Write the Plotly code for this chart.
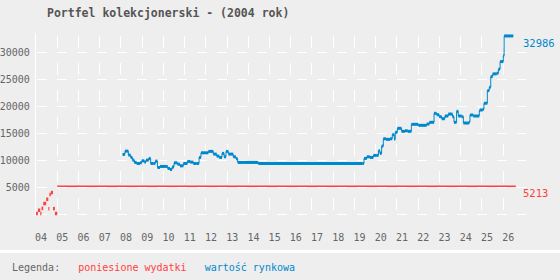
import plotly.graph_objects as go

# ---- data ----
title_text = "Portfel kolekcjonerski - (2004 rok)"
legend_label = "Legenda:"
expense_name = "poniesione wydatki"
market_name = "wartość rynkowa"

year_labels = ["04", "05", "06", "07", "08", "09", "10", "11", "12", "13", "14", "15",
               "16", "17", "18", "19", "20", "21", "22", "23", "24", "25", "26"]
year_starts = list(range(2004, 2027))

expense_x = [2004.00, 2004.09, 2004.20, 2004.26, 2004.34, 2004.48, 2004.58, 2004.63,
             2004.70, 2004.80, 2004.89, 2005.00, 2026.60]
expense_y = [200, 800, 200, 1150, 2040, 2830, 1100, 3700,
             4070, 1100, 200, 5213, 5213]

market_x = [2008.08, 2008.19, 2008.35, 2008.46, 2008.54, 2008.63, 2008.74, 2008.90, 2008.98,
            2009.10, 2009.18, 2009.31, 2009.40, 2009.53, 2009.62, 2009.72, 2009.84, 2010.08,
            2010.20, 2010.31, 2010.41, 2010.50, 2010.66, 2010.78, 2010.94, 2011.13, 2011.26,
            2011.41, 2011.57, 2011.68, 2011.77, 2011.96, 2012.12, 2012.35, 2012.51, 2012.63,
            2012.76, 2012.86, 2012.95, 2013.06, 2013.29, 2013.42, 2013.50, 2014.47, 2019.39,
            2019.45, 2019.58, 2019.73, 2019.89, 2020.05, 2020.13, 2020.20, 2020.28, 2020.36,
            2020.49, 2020.68, 2020.78, 2020.88, 2020.92, 2021.02, 2021.22, 2021.38, 2021.51,
            2021.68, 2021.85, 2022.01, 2022.40, 2022.53, 2022.75, 2022.87, 2022.99, 2023.11,
            2023.26, 2023.42, 2023.62, 2023.69, 2023.81, 2023.89, 2024.05, 2024.13, 2024.40,
            2024.44, 2024.60, 2024.88, 2024.91, 2025.04, 2025.10, 2025.26, 2025.35, 2025.42,
            2025.51, 2025.70, 2025.78, 2025.86, 2026.01, 2026.05, 2026.48]
market_y = [11110, 11720, 10980, 10550, 10060, 9630, 9440, 9560, 9930,
            9690, 10060, 10370, 9440, 9440, 9870, 8700, 8890, 8890,
            8520, 8330, 8810, 9560, 9310, 9000, 9440, 9810, 9690,
            9440, 9440, 10550, 11410, 11410, 11670, 11170, 10800, 10550,
            11300, 10670, 11670, 11170, 10670, 10300, 9630, 9440, 9440,
            10370, 10670, 10550, 10930, 10930, 11780, 11300, 12650, 14000,
            13890, 14000, 14740, 13890, 15190, 15930, 15370, 15480, 15370,
            16670, 16670, 16480, 16720, 17040, 18700, 18440, 18070, 17700,
            18200, 18570, 18070, 17040, 19070, 18200, 18070, 16910, 17090,
            18390, 18200, 19190, 19310, 19440, 20560, 22890, 23520, 25480,
            25980, 26110, 26850, 28260, 29310, 32986, 32986]

y_ticks = [0, 5000, 10000, 15000, 20000, 25000, 30000]
y_ticktext = ["", "5000", "10000", "15000", "20000", "25000", "30000"]

# ---- style ----
RED = "#ff4040"
BLUE = "#0088cc"
BG = "#eeeeee"
GRAY = "#666666"
MONO = "DejaVu Sans Mono"

# plot area in px
L, R, T, B = 36, 526, 33, 216
W, H = 560, 280


def px_x(px):
    return (px - L) / (R - L)


def px_y(py):
    return (B - py) / (B - T)


def steps(xs, ys):
    """horizontal segments of a step line: each value held until next point"""
    sx, sy = [], []
    for i in range(len(xs) - 1):
        sx += [xs[i], xs[i + 1], None]
        sy += [ys[i], ys[i], None]
    return sx, sy


fig = go.Figure()

# thin connecting step line for market value
fig.add_trace(go.Scatter(x=market_x, y=market_y, mode="lines",
                         line=dict(color=BLUE, width=1, shape="hv"),
                         hoverinfo="skip", showlegend=False))
mx, my = steps(market_x, market_y)
fig.add_trace(go.Scatter(x=mx, y=my, mode="lines", line=dict(color=BLUE, width=3),
                         name=market_name, showlegend=False, connectgaps=False))

# expenses: thick ramp bars, thin long line
ex, ey = steps(expense_x[:-1], expense_y[:-1])
fig.add_trace(go.Scatter(x=ex, y=ey, mode="lines", line=dict(color=RED, width=3.5),
                         name=expense_name, showlegend=False, connectgaps=False))
fig.add_trace(go.Scatter(x=expense_x[-2:], y=expense_y[-2:], mode="lines",
                         line=dict(color=RED, width=1.5),
                         hoverinfo="skip", showlegend=False))

fig.update_layout(
    width=W, height=H,
    margin=dict(l=L, r=W - R, t=T, b=H - B, autoexpand=False),
    paper_bgcolor=BG, plot_bgcolor=BG,
    font=dict(family=MONO, size=10, color=GRAY),
    showlegend=False,
    xaxis=dict(
        range=[2004, 2004 + (R - L) / 21.23],
        tickmode="array",
        tickvals=[y + 0.24 for y in year_starts],
        ticktext=year_labels,
        showgrid=False, zeroline=False, showline=False, automargin=False,
        ticks="", ticklabelstandoff=14,
        tickfont=dict(family=MONO, size=10, color=GRAY),
        minor=dict(tickmode="array", tickvals=year_starts[1:], showgrid=True,
                   gridcolor="white", gridwidth=1.2, griddash="0px,2.5px,12.5px,12px", ticks=""),
        fixedrange=True,
    ),
    yaxis=dict(
        range=[-260, 33530],
        tickmode="array", tickvals=y_ticks, ticktext=y_ticktext,
        showgrid=True, gridcolor="white", gridwidth=1.2, griddash="0px,1px,10px,9px",
        zeroline=False, showline=True, linecolor="white", linewidth=1.2, automargin=False,
        ticks="", ticklabelstandoff=3,
        tickfont=dict(family=MONO, size=10, color=GRAY),
        fixedrange=True,
    ),
)

annotations = [
    dict(text="<b>" + title_text + "</b>", xref="paper", yref="paper",
         x=px_x(45), y=px_y(13), xanchor="left", yanchor="middle", showarrow=False,
         font=dict(family=MONO, size=11.5, color="#555555")),
    dict(text=str(market_y[-1]), xref="paper", yref="y", x=px_x(521), y=market_y[-1],
         xanchor="left", yanchor="middle", yshift=-7, showarrow=False,
         font=dict(family=MONO, size=10.5, color=BLUE)),
    dict(text=str(expense_y[-1]), xref="paper", yref="y", x=px_x(521), y=expense_y[-1],
         xanchor="left", yanchor="middle", yshift=-7, showarrow=False,
         font=dict(family=MONO, size=10.5, color=RED)),
    dict(text=legend_label + "\u00a0\u00a0\u00a0"
         + "<span style='color:%s'>%s</span>" % (RED, expense_name)
         + "\u00a0\u00a0\u00a0"
         + "<span style='color:%s'>%s</span>" % (BLUE, market_name),
         xref="paper", yref="paper", x=px_x(10), y=px_y(267),
         xanchor="left", yanchor="middle", showarrow=False,
         font=dict(family=MONO, size=10, color=GRAY)),
]
fig.update_layout(annotations=annotations)

fig.add_shape(type="rect", xref="paper", yref="paper",
              x0=px_x(0), x1=px_x(W), y0=px_y(250), y1=px_y(253),
              fillcolor="white", line=dict(width=0), layer="below")

fig.write_html("out.html")
